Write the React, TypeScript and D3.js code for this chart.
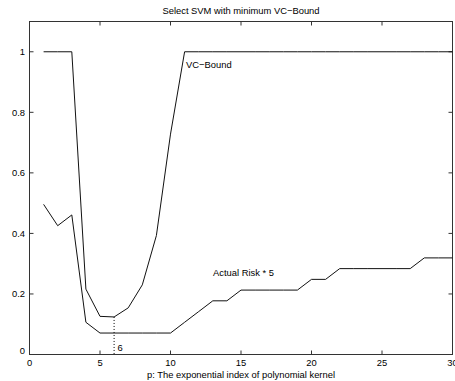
import React from "react";
import * as d3 from "d3";

const pValues = d3.range(1, 31);
const vcBound = [1, 1, 1, 0.216, 0.126, 0.124, 0.154, 0.23, 0.393, 0.728, 1, 1, 1, 1, 1, 1, 1, 1, 1, 1, 1, 1, 1, 1, 1, 1, 1, 1, 1, 1];
const actualRisk5 = [0.496, 0.4255, 0.461, 0.1064, 0.0709, 0.0709, 0.0709, 0.0709, 0.0709, 0.0709, 0.1064, 0.1418, 0.1773, 0.1773, 0.2128, 0.2128, 0.2128, 0.2128, 0.2128, 0.2482, 0.2482, 0.2837, 0.2837, 0.2837, 0.2837, 0.2837, 0.2837, 0.3191, 0.3191, 0.3191];
const xTicks = [0, 5, 10, 15, 20, 25, 30];
const yTicks = [0, 0.2, 0.4, 0.6, 0.8, 1];
const selectedP = 6;

const W = 455, H = 381;
const left = 29.5, right = 452.5, top = 21.5, bottom = 354.5;

export default function App() {
  const x = d3.scaleLinear().domain([0, 30]).range([left, right]);
  const y = d3.scaleLinear().domain([0, 1.1]).range([bottom, top]);
  const line = d3.line<number>().x((_, i) => x(pValues[i])).y((d) => y(d));
  const font = "'Liberation Sans', Arial, Helvetica, sans-serif";
  const fs = 9.4;
  const tl = 4;
  const selVC = vcBound[pValues.indexOf(selectedP)];
  return (
    <svg width={W} height={H} style={{ position: "absolute", left: 0, top: 0, background: "#fff" }} fontFamily={font}>
      <rect x={0} y={0} width={W} height={H} fill="#fff" />
      <rect x={left} y={top} width={right - left} height={bottom - top} fill="none" stroke="#333" strokeWidth={1} />
      {xTicks.map((t) => (
        <g key={"x" + t}>
          <line x1={x(t)} x2={x(t)} y1={bottom} y2={bottom - tl} stroke="#333" />
          <line x1={x(t)} x2={x(t)} y1={top} y2={top + tl} stroke="#333" />
          <text x={x(t)} y={366} fontSize={fs} textAnchor="middle" fill="#000">{t}</text>
        </g>
      ))}
      {yTicks.map((t) => (
        <g key={"y" + t}>
          <line x1={left} x2={left + tl} y1={y(t)} y2={y(t)} stroke="#333" />
          <line x1={right} x2={right - tl} y1={y(t)} y2={y(t)} stroke="#333" />
          <text x={25} y={t === 0 ? y(t) - 1 : y(t) + 3.5} fontSize={fs} textAnchor="end" fill="#000">{t}</text>
        </g>
      ))}
      <path d={line(vcBound) || ""} fill="none" stroke="#111" strokeWidth={1} />
      <path d={line(actualRisk5) || ""} fill="none" stroke="#111" strokeWidth={1} />
      <line x1={x(selectedP)} x2={x(selectedP)} y1={y(selVC)} y2={bottom} stroke="#000" strokeDasharray="1,2" />
      <text x={x(selectedP) + 3.5} y={351} fontSize={fs} fill="#000">{selectedP}</text>
      <text x={186} y={68} fontSize={fs} fill="#000">VC−Bound</text>
      <text x={213} y={276} fontSize={fs} fill="#000">Actual Risk * 5</text>
      <text x={(left + right) / 2} y={14} fontSize={fs} textAnchor="middle" fill="#000">Select SVM with minimum VC−Bound</text>
      <text x={(left + right) / 2} y={378} fontSize={fs} textAnchor="middle" fill="#000">p: The exponential index of polynomial kernel</text>
    </svg>
  );
}
